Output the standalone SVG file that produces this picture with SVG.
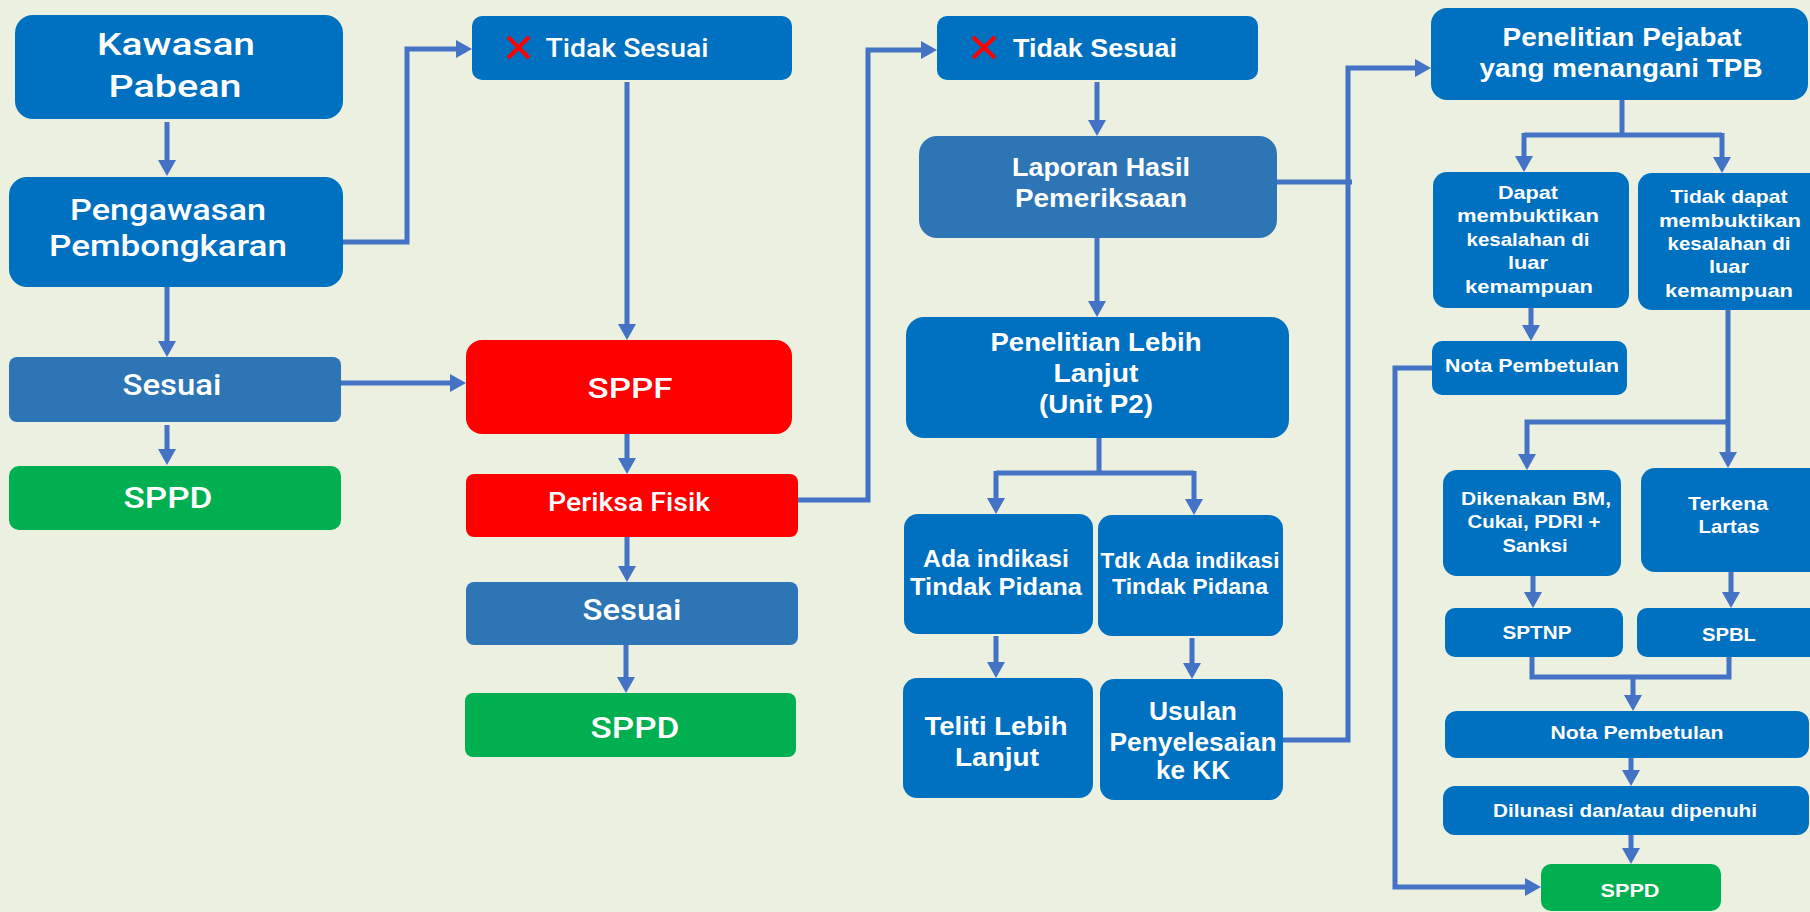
<svg xmlns="http://www.w3.org/2000/svg" width="1810" height="912" viewBox="0 0 1810 912">
<defs>
<marker id="ah" markerUnits="userSpaceOnUse" viewBox="0 0 16 18" refX="2" refY="9" markerWidth="16" markerHeight="18" orient="auto">
<path d="M0,0 L16,9 L0,18 z" fill="#4472C4"/>
</marker>
<style>
.b{fill:#0070C0}
.m{fill:#2E75B6}
.r{fill:#FF0000}
.g{fill:#00B050}
text{font-family:"Liberation Sans",Arial,sans-serif;font-weight:700;fill:#FFFFFF;text-anchor:middle}
text.l{font-family:Roboto,"Liberation Sans",sans-serif;font-weight:500}
.c{fill:none;stroke:#4472C4;stroke-width:5}
.a{marker-end:url(#ah)}
.x{stroke:#FF0000;stroke-width:4}
</style>
</defs>
<rect width="1810" height="912" fill="#EBF0E0"/>

<g id="connectors">
<path class="c a" d="M167,122 V162"/>
<path class="c a" d="M167,287 V343"/>
<path class="c a" d="M167,425 V451"/>
<path class="c a" d="M343,242 H407 V49 H458"/>
<path class="c a" d="M627,82 V326"/>
<path class="c a" d="M341,383 H452"/>
<path class="c a" d="M627,434 V460"/>
<path class="c a" d="M627,537 V568"/>
<path class="c a" d="M626,645 V679"/>
<path class="c a" d="M798,500 H868 V50 H923"/>
<path class="c a" d="M1097,82 V122"/>
<path class="c a" d="M1097,238 V303"/>
<path class="c" d="M1099,438 V473"/>
<path class="c" d="M996,473 H1194"/>
<path class="c a" d="M996,471 V500"/>
<path class="c a" d="M1194,471 V501"/>
<path class="c a" d="M996,636 V664"/>
<path class="c a" d="M1192,638 V665"/>
<path class="c a" d="M1283,740 H1348 V68 H1417"/>
<path class="c" d="M1277,182 H1352"/>
<path class="c" d="M1622,100 V135"/>
<path class="c" d="M1524,135 H1722"/>
<path class="c a" d="M1524,133 V158"/>
<path class="c a" d="M1722,133 V159"/>
<path class="c a" d="M1531,308 V327"/>
<path class="c a" d="M1432,368 H1395 V887 H1527"/>
<path class="c a" d="M1728,310 V454"/>
<path class="c a" d="M1728,422 H1527 V456"/>
<path class="c a" d="M1533,576 V594"/>
<path class="c a" d="M1731,572 V594"/>
<path class="c" d="M1532,657 V677 H1729 V657"/>
<path class="c a" d="M1633,677 V697"/>
<path class="c a" d="M1631,758 V772"/>
<path class="c a" d="M1631,835 V850"/>
</g>

<g id="kawasan-pabean">
<rect class="b" x="15" y="15" width="328" height="104" rx="18"/>
<text class="l" x="176" y="55" font-size="31" textLength="158" lengthAdjust="spacingAndGlyphs">Kawasan</text>
<text class="l" x="175" y="97" font-size="31" textLength="133" lengthAdjust="spacingAndGlyphs">Pabean</text>
</g>
<g id="pengawasan">
<rect class="b" x="9" y="177" width="334" height="110" rx="18"/>
<text class="l" x="168" y="220" font-size="29" textLength="196" lengthAdjust="spacingAndGlyphs">Pengawasan</text>
<text class="l" x="168" y="256" font-size="29" textLength="238" lengthAdjust="spacingAndGlyphs">Pembongkaran</text>
</g>
<g id="sesuai-1">
<rect class="m" x="9" y="357" width="332" height="65" rx="8"/>
<text class="l" x="172" y="395" font-size="29" textLength="99" lengthAdjust="spacingAndGlyphs">Sesuai</text>
</g>
<g id="sppd-1">
<rect class="g" x="9" y="466" width="332" height="64" rx="10"/>
<text class="l" x="168" y="508" font-size="29" textLength="89" lengthAdjust="spacingAndGlyphs">SPPD</text>
</g>
<g id="tidak-sesuai-1">
<rect class="b" x="472" y="16" width="320" height="64" rx="10"/>
<line class="x" x1="508" y1="37" x2="529" y2="58"/>
<line class="x" x1="529" y1="37" x2="508" y2="58"/>
<text class="l" x="627" y="57" font-size="26" textLength="163" lengthAdjust="spacingAndGlyphs">Tidak Sesuai</text>
</g>
<g id="sppf">
<rect class="r" x="466" y="340" width="326" height="94" rx="16"/>
<text class="l" x="630" y="398" font-size="28" textLength="85" lengthAdjust="spacingAndGlyphs">SPPF</text>
</g>
<g id="periksa-fisik">
<rect class="r" x="466" y="474" width="332" height="63" rx="8"/>
<text class="l" x="629" y="511" font-size="25" textLength="162" lengthAdjust="spacingAndGlyphs">Periksa Fisik</text>
</g>
<g id="sesuai-2">
<rect class="m" x="466" y="582" width="332" height="63" rx="8"/>
<text class="l" x="632" y="620" font-size="29" textLength="99" lengthAdjust="spacingAndGlyphs">Sesuai</text>
</g>
<g id="sppd-2">
<rect class="g" x="465" y="693" width="331" height="64" rx="8"/>
<text class="l" x="635" y="738" font-size="29" textLength="89" lengthAdjust="spacingAndGlyphs">SPPD</text>
</g>

<g id="tidak-sesuai-2">
<rect class="b" x="937" y="16" width="321" height="64" rx="10"/>
<line class="x" x1="973" y1="37" x2="995" y2="58"/>
<line class="x" x1="995" y1="37" x2="973" y2="58"/>
<text x="1095" y="57" font-size="26" textLength="164" lengthAdjust="spacingAndGlyphs">Tidak Sesuai</text>
</g>
<g id="laporan-hasil">
<rect class="m" x="919" y="136" width="358" height="102" rx="18"/>
<text x="1101" y="176" font-size="26" textLength="178" lengthAdjust="spacingAndGlyphs">Laporan Hasil</text>
<text x="1101" y="207" font-size="26" textLength="172" lengthAdjust="spacingAndGlyphs">Pemeriksaan</text>
</g>
<g id="penelitian-lebih-lanjut">
<rect class="b" x="906" y="317" width="383" height="121" rx="18"/>
<text x="1096" y="351" font-size="26" textLength="211" lengthAdjust="spacingAndGlyphs">Penelitian Lebih</text>
<text x="1096" y="382" font-size="26" textLength="85" lengthAdjust="spacingAndGlyphs">Lanjut</text>
<text x="1096" y="413" font-size="26" textLength="114" lengthAdjust="spacingAndGlyphs">(Unit P2)</text>
</g>
<g id="ada-indikasi">
<rect class="b" x="904" y="514" width="189" height="120" rx="14"/>
<text x="996" y="567" font-size="24" textLength="146" lengthAdjust="spacingAndGlyphs">Ada indikasi</text>
<text x="996" y="595" font-size="24" textLength="172" lengthAdjust="spacingAndGlyphs">Tindak Pidana</text>
</g>
<g id="tdk-ada-indikasi">
<rect class="b" x="1098" y="515" width="185" height="121" rx="14"/>
<text x="1190" y="568" font-size="22" textLength="179" lengthAdjust="spacingAndGlyphs">Tdk Ada indikasi</text>
<text x="1190" y="594" font-size="22" textLength="156" lengthAdjust="spacingAndGlyphs">Tindak Pidana</text>
</g>
<g id="teliti-lebih-lanjut">
<rect class="b" x="903" y="678" width="190" height="120" rx="14"/>
<text x="996" y="735" font-size="26" textLength="143" lengthAdjust="spacingAndGlyphs">Teliti Lebih</text>
<text x="997" y="766" font-size="26" textLength="84" lengthAdjust="spacingAndGlyphs">Lanjut</text>
</g>
<g id="usulan-penyelesaian">
<rect class="b" x="1100" y="679" width="183" height="121" rx="14"/>
<text x="1193" y="720" font-size="25" textLength="88" lengthAdjust="spacingAndGlyphs">Usulan</text>
<text x="1193" y="751" font-size="25" textLength="167" lengthAdjust="spacingAndGlyphs">Penyelesaian</text>
<text x="1193" y="779" font-size="25" textLength="74" lengthAdjust="spacingAndGlyphs">ke KK</text>
</g>

<g id="penelitian-pejabat">
<rect class="b" x="1431" y="8" width="377" height="92" rx="16"/>
<text x="1622" y="46" font-size="26" textLength="239" lengthAdjust="spacingAndGlyphs">Penelitian Pejabat</text>
<text x="1621" y="77" font-size="26" textLength="283" lengthAdjust="spacingAndGlyphs">yang menangani TPB</text>
</g>
<g id="dapat-membuktikan">
<rect class="b" x="1433" y="172" width="196" height="136" rx="14"/>
<text x="1528" y="199" font-size="19" textLength="60" lengthAdjust="spacingAndGlyphs">Dapat</text>
<text x="1528" y="222" font-size="19" textLength="142" lengthAdjust="spacingAndGlyphs">membuktikan</text>
<text x="1528" y="246" font-size="19" textLength="123" lengthAdjust="spacingAndGlyphs">kesalahan di</text>
<text x="1528" y="269" font-size="19" textLength="40" lengthAdjust="spacingAndGlyphs">luar</text>
<text x="1529" y="293" font-size="19" textLength="128" lengthAdjust="spacingAndGlyphs">kemampuan</text>
</g>
<g id="tidak-dapat-membuktikan">
<rect class="b" x="1638" y="173" width="190" height="137" rx="14"/>
<text x="1729" y="203" font-size="19" textLength="117" lengthAdjust="spacingAndGlyphs">Tidak dapat</text>
<text x="1730" y="227" font-size="19" textLength="142" lengthAdjust="spacingAndGlyphs">membuktikan</text>
<text x="1729" y="250" font-size="19" textLength="123" lengthAdjust="spacingAndGlyphs">kesalahan di</text>
<text x="1729" y="273" font-size="19" textLength="40" lengthAdjust="spacingAndGlyphs">luar</text>
<text x="1729" y="297" font-size="19" textLength="128" lengthAdjust="spacingAndGlyphs">kemampuan</text>
</g>
<g id="nota-pembetulan-1">
<rect class="b" x="1432" y="341" width="195" height="54" rx="10"/>
<text x="1532" y="372" font-size="19" textLength="174" lengthAdjust="spacingAndGlyphs">Nota Pembetulan</text>
</g>
<g id="dikenakan-bm">
<rect class="b" x="1443" y="470" width="178" height="106" rx="14"/>
<text x="1536" y="505" font-size="19" textLength="150" lengthAdjust="spacingAndGlyphs">Dikenakan BM,</text>
<text x="1534" y="528" font-size="19" textLength="133" lengthAdjust="spacingAndGlyphs">Cukai, PDRI +</text>
<text x="1535" y="552" font-size="19" textLength="65" lengthAdjust="spacingAndGlyphs">Sanksi</text>
</g>
<g id="terkena-lartas">
<rect class="b" x="1641" y="468" width="187" height="104" rx="14"/>
<text x="1728" y="510" font-size="19" textLength="80" lengthAdjust="spacingAndGlyphs">Terkena</text>
<text x="1729" y="533" font-size="19" textLength="61" lengthAdjust="spacingAndGlyphs">Lartas</text>
</g>
<g id="sptnp">
<rect class="b" x="1445" y="608" width="178" height="49" rx="10"/>
<text x="1537" y="639" font-size="19" textLength="69" lengthAdjust="spacingAndGlyphs">SPTNP</text>
</g>
<g id="spbl">
<rect class="b" x="1637" y="608" width="190" height="49" rx="10"/>
<text x="1729" y="641" font-size="19" textLength="54" lengthAdjust="spacingAndGlyphs">SPBL</text>
</g>
<g id="nota-pembetulan-2">
<rect class="b" x="1445" y="711" width="364" height="47" rx="12"/>
<text x="1637" y="739" font-size="19" textLength="173" lengthAdjust="spacingAndGlyphs">Nota Pembetulan</text>
</g>
<g id="dilunasi">
<rect class="b" x="1443" y="786" width="366" height="49" rx="12"/>
<text x="1625" y="817" font-size="19" textLength="264" lengthAdjust="spacingAndGlyphs">Dilunasi dan/atau dipenuhi</text>
</g>
<g id="sppd-3">
<rect class="g" x="1541" y="864" width="180" height="47" rx="10"/>
<text x="1630" y="897" font-size="19" textLength="59" lengthAdjust="spacingAndGlyphs">SPPD</text>
</g>
</svg>
